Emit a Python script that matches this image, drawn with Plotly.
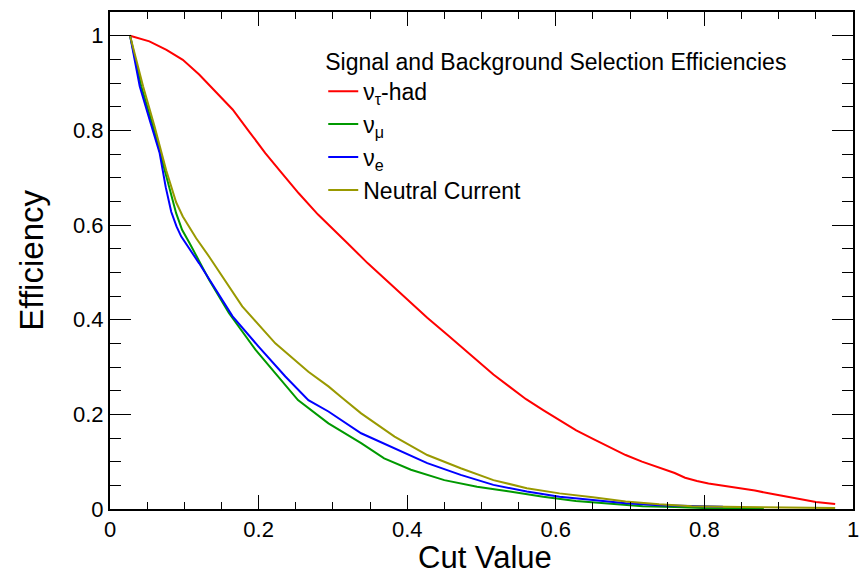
import plotly.graph_objects as go

# nu_tau-had (signal)
tau_x = [0.027, 0.053, 0.076, 0.098, 0.12, 0.142, 0.165, 0.187, 0.209, 0.231, 0.254, 0.28, 0.30,
         0.32, 0.347, 0.374, 0.40, 0.427, 0.454, 0.48, 0.494, 0.516, 0.538, 0.56, 0.583, 0.605,
         0.6275, 0.65, 0.672, 0.694, 0.716, 0.739, 0.76, 0.774, 0.79, 0.8055, 0.828, 0.85, 0.868,
         0.89, 0.91, 0.93, 0.95, 0.976]
tau_y = [1.0, 0.988, 0.970, 0.949, 0.918, 0.882, 0.844, 0.798, 0.752, 0.710, 0.667, 0.622, 0.592,
         0.561, 0.519, 0.48, 0.442, 0.404, 0.368, 0.332, 0.313, 0.284, 0.258, 0.232, 0.209, 0.188,
         0.166, 0.148, 0.131, 0.114, 0.100, 0.088, 0.076, 0.066, 0.059, 0.054, 0.049, 0.044, 0.039,
         0.032, 0.026, 0.020, 0.015, 0.0106]

# nu_mu
mu_x = [0.027, 0.042, 0.058, 0.0734, 0.082, 0.089, 0.097, 0.107, 0.1335, 0.16, 0.196, 0.253, 0.294,
        0.338, 0.369, 0.405, 0.45, 0.494, 0.538, 0.583, 0.627, 0.672, 0.717, 0.76, 0.80, 0.88]
mu_y = [1.0, 0.893, 0.808, 0.717, 0.665, 0.625, 0.59, 0.562, 0.484, 0.414, 0.336, 0.23, 0.181,
        0.139, 0.107, 0.083, 0.061, 0.047, 0.037, 0.026, 0.017, 0.012, 0.006, 0.004, 0.002, 0.001]

# nu_e
e_x = [0.027, 0.04, 0.0534, 0.0668, 0.075, 0.0824, 0.0895, 0.0957, 0.12, 0.142, 0.165, 0.2, 0.236,
       0.267, 0.294, 0.338, 0.383, 0.427, 0.472, 0.516, 0.561, 0.605, 0.65, 0.694, 0.739, 0.783, 0.825]
e_y = [1.0, 0.893, 0.822, 0.752, 0.68, 0.628, 0.597, 0.576, 0.519, 0.463, 0.407, 0.343, 0.28,
       0.23, 0.206, 0.16, 0.128, 0.097, 0.072, 0.051, 0.037, 0.026, 0.019, 0.012, 0.008, 0.006, 0.005]

# Neutral current
nc_x = [0.027, 0.0445, 0.06, 0.0757, 0.089, 0.098, 0.116, 0.1335, 0.178, 0.2225, 0.267, 0.294,
        0.3115, 0.338, 0.383, 0.427, 0.472, 0.516, 0.561, 0.605, 0.65, 0.694, 0.739, 0.783, 0.85, 0.976]
nc_y = [1.0, 0.893, 0.808, 0.715, 0.648, 0.618, 0.572, 0.533, 0.428, 0.35, 0.29, 0.259,
        0.236, 0.202, 0.153, 0.114, 0.086, 0.061, 0.044, 0.033, 0.025, 0.016, 0.010, 0.006, 0.004, 0.002]

series = [
    ("ν<sub>τ</sub>-had", tau_x, tau_y, "#ff0000"),
    ("ν<sub>μ</sub>", mu_x, mu_y, "#009900"),
    ("ν<sub>e</sub>", e_x, e_y, "#0000ff"),
    ("Neutral Current", nc_x, nc_y, "#999900"),
]

FONT = "Liberation Sans, Arial, Helvetica, sans-serif"

fig = go.Figure()
for name, xs, ys, col in series:
    fig.add_trace(go.Scatter(x=xs, y=ys, mode="lines", name=name,
                             line=dict(color=col, width=2)))

axis_common = dict(
    showgrid=False, zeroline=False, showline=True, linecolor="black", linewidth=2,
    mirror="ticks", ticks="inside", tickcolor="black", tickwidth=1,
    tickfont=dict(family=FONT, size=22, color="black"),
)

fig.update_layout(
    width=866, height=576,
    margin=dict(l=110, r=7, t=12, b=67),
    paper_bgcolor="white", plot_bgcolor="white",
    font=dict(family=FONT, color="black"),
    xaxis=dict(range=[0, 1], dtick=0.2, tick0=0, ticklen=14,
               minor=dict(dtick=0.05, ticklen=7, ticks="inside", tickcolor="black", tickwidth=1),
               **axis_common),
    yaxis=dict(range=[0, 1.05], dtick=0.2, tick0=0, ticklen=21,
               minor=dict(dtick=0.05, ticklen=11, ticks="inside", tickcolor="black", tickwidth=1),
               **axis_common),
    legend=dict(
        x=0.287, y=0.944, xanchor="left", yanchor="top",
        bgcolor="rgba(0,0,0,0)", borderwidth=0,
        font=dict(family=FONT, size=23, color="black"),
        title=dict(text="Signal and Background Selection Efficiencies",
                   font=dict(family=FONT, size=23, color="black")),
        tracegroupgap=0,
    ),
    showlegend=True,
)

fig.add_annotation(text="Cut Value", xref="paper", yref="paper",
                   x=(488 - 110) / 749, y=-(576 - 509) / 497, xanchor="center", yanchor="bottom",
                   borderpad=0, showarrow=False, font=dict(family=FONT, size=31, color="black"))
fig.add_annotation(text="Efficiency", xref="paper", yref="paper", textangle=-90,
                   x=-(110 - 30) / 749, y=(509 - 260) / 497, xanchor="center", yanchor="middle",
                   showarrow=False, font=dict(family=FONT, size=33, color="black"))

fig.write_html("out.html")
